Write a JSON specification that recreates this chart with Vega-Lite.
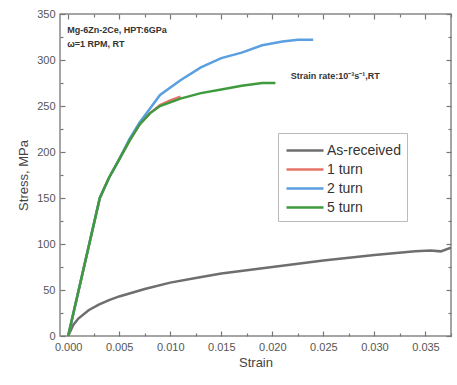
{
  "$schema": "https://vega.github.io/schema/vega-lite/v6.json",
  "width": 391,
  "height": 322,
  "autosize": {"type": "none"},
  "padding": {"left": 60, "top": 14, "right": 6, "bottom": 49},
  "background": "white",
  "config": {
    "view": {"stroke": "#888", "strokeWidth": 1.5},
    "axis": {"grid": false, "domain": false, "tickColor": "#777", "tickWidth": 1.2, "labelFont": "Liberation Sans", "labelFontSize": 11, "labelColor": "#555", "titleFont": "Liberation Sans", "titleFontSize": 13, "titleFontWeight": "normal", "titleColor": "#444"}
  },
  "datasets": {
    "curves": [
      {"series": "As-received", "strain": 0.0, "stress": 0},
      {"series": "As-received", "strain": 0.0005, "stress": 12},
      {"series": "As-received", "strain": 0.001, "stress": 19},
      {"series": "As-received", "strain": 0.002, "stress": 28},
      {"series": "As-received", "strain": 0.003, "stress": 34},
      {"series": "As-received", "strain": 0.004, "stress": 39},
      {"series": "As-received", "strain": 0.005, "stress": 43},
      {"series": "As-received", "strain": 0.0075, "stress": 51},
      {"series": "As-received", "strain": 0.010, "stress": 58},
      {"series": "As-received", "strain": 0.0125, "stress": 63},
      {"series": "As-received", "strain": 0.015, "stress": 68},
      {"series": "As-received", "strain": 0.020, "stress": 75},
      {"series": "As-received", "strain": 0.025, "stress": 82},
      {"series": "As-received", "strain": 0.030, "stress": 88},
      {"series": "As-received", "strain": 0.034, "stress": 92},
      {"series": "As-received", "strain": 0.0355, "stress": 93},
      {"series": "As-received", "strain": 0.0365, "stress": 92},
      {"series": "As-received", "strain": 0.0375, "stress": 96},
      {"series": "1 turn", "strain": 0.0, "stress": 0},
      {"series": "1 turn", "strain": 0.0031, "stress": 150},
      {"series": "1 turn", "strain": 0.004, "stress": 172},
      {"series": "1 turn", "strain": 0.005, "stress": 192},
      {"series": "1 turn", "strain": 0.006, "stress": 212},
      {"series": "1 turn", "strain": 0.007, "stress": 230},
      {"series": "1 turn", "strain": 0.008, "stress": 242},
      {"series": "1 turn", "strain": 0.009, "stress": 251},
      {"series": "1 turn", "strain": 0.010, "stress": 256},
      {"series": "1 turn", "strain": 0.011, "stress": 260},
      {"series": "2 turn", "strain": 0.0, "stress": 0},
      {"series": "2 turn", "strain": 0.0031, "stress": 150},
      {"series": "2 turn", "strain": 0.004, "stress": 172},
      {"series": "2 turn", "strain": 0.005, "stress": 192},
      {"series": "2 turn", "strain": 0.006, "stress": 214},
      {"series": "2 turn", "strain": 0.007, "stress": 232},
      {"series": "2 turn", "strain": 0.008, "stress": 247},
      {"series": "2 turn", "strain": 0.009, "stress": 262},
      {"series": "2 turn", "strain": 0.011, "stress": 278},
      {"series": "2 turn", "strain": 0.013, "stress": 292},
      {"series": "2 turn", "strain": 0.015, "stress": 302},
      {"series": "2 turn", "strain": 0.017, "stress": 308},
      {"series": "2 turn", "strain": 0.019, "stress": 316},
      {"series": "2 turn", "strain": 0.021, "stress": 320},
      {"series": "2 turn", "strain": 0.0225, "stress": 322},
      {"series": "2 turn", "strain": 0.024, "stress": 322},
      {"series": "5 turn", "strain": 0.0, "stress": 0},
      {"series": "5 turn", "strain": 0.0031, "stress": 150},
      {"series": "5 turn", "strain": 0.004, "stress": 172},
      {"series": "5 turn", "strain": 0.005, "stress": 192},
      {"series": "5 turn", "strain": 0.006, "stress": 212},
      {"series": "5 turn", "strain": 0.007, "stress": 230},
      {"series": "5 turn", "strain": 0.008, "stress": 242},
      {"series": "5 turn", "strain": 0.009, "stress": 250},
      {"series": "5 turn", "strain": 0.011, "stress": 258},
      {"series": "5 turn", "strain": 0.013, "stress": 264},
      {"series": "5 turn", "strain": 0.015, "stress": 268},
      {"series": "5 turn", "strain": 0.017, "stress": 272},
      {"series": "5 turn", "strain": 0.019, "stress": 275},
      {"series": "5 turn", "strain": 0.0203, "stress": 275}
    ],
    "notes": [
      {"strain": -0.0001, "stress": 333, "label": "Mg-6Zn-2Ce, HPT:6GPa"},
      {"strain": -0.0001, "stress": 317, "label": "ω=1 RPM, RT"},
      {"strain": 0.0218, "stress": 283, "label": "Strain rate:10⁻³s⁻¹,RT"}
    ]
  },
  "layer": [
    {
      "data": {"name": "curves"},
      "mark": {"type": "line", "strokeWidth": 2.5, "clip": true},
      "encoding": {
        "x": {"field": "strain", "type": "quantitative", "title": "Strain",
              "scale": {"domain": [-0.0008, 0.0375], "nice": false, "zero": false},
              "axis": {"orient": "bottom", "values": [0, 0.0025, 0.005, 0.0075, 0.01, 0.0125, 0.015, 0.0175, 0.02, 0.0225, 0.025, 0.0275, 0.03, 0.0325, 0.035, 0.0375], "format": ".3f",
                       "labelExpr": "abs(datum.value*200 - round(datum.value*200)) < 1e-6 ? datum.label : ''",
                       "tickSize": {"condition": {"test": "abs(datum.value*200 - round(datum.value*200)) < 1e-6", "value": -5}, "value": -3},
                       "labelPadding": 10, "titlePadding": 4}},
        "y": {"field": "stress", "type": "quantitative", "title": "Stress, MPa",
              "scale": {"domain": [0, 350], "nice": false},
              "axis": {"orient": "left", "values": [0, 25, 50, 75, 100, 125, 150, 175, 200, 225, 250, 275, 300, 325, 350],
                       "labelExpr": "datum.value % 50 == 0 ? datum.label : ''",
                       "tickSize": {"condition": {"test": "datum.value % 50 == 0", "value": -5}, "value": -3},
                       "labelPadding": 10, "titlePadding": 6}},
        "color": {"field": "series", "type": "nominal",
                  "scale": {"domain": ["As-received", "1 turn", "2 turn", "5 turn"], "range": ["#6e6e6e", "#e57368", "#5a9fe0", "#3f9a3f"]},
                  "legend": {"title": null, "orient": "none", "legendX": 218, "legendY": 119, "symbolType": "M-0.9,0H2.8", "symbolSize": 400, "symbolStrokeWidth": 2.5, "labelFont": "Liberation Sans", "labelFontSize": 14, "labelColor": "#333", "labelOffset": 20, "strokeColor": "#bbb", "padding": 6, "rowPadding": 0, "fillColor": "white"}},
        "order": {"field": "strain", "type": "quantitative"}
      }
    },
    {
      "data": {"name": "notes"},
      "mark": {"type": "text", "align": "left", "baseline": "middle", "fontWeight": "bold", "font": "Liberation Sans", "fontSize": 9, "color": "#333"},
      "encoding": {
        "x": {"field": "strain", "type": "quantitative", "scale": {"domain": [-0.0008, 0.0375], "nice": false, "zero": false},
              "axis": {"orient": "top", "values": [0, 0.0025, 0.005, 0.0075, 0.01, 0.0125, 0.015, 0.0175, 0.02, 0.0225, 0.025, 0.0275, 0.03, 0.0325, 0.035, 0.0375], "labels": false,
                       "tickSize": {"condition": {"test": "abs(datum.value*200 - round(datum.value*200)) < 1e-6", "value": -5}, "value": -3}, "title": null}},
        "y": {"field": "stress", "type": "quantitative", "scale": {"domain": [0, 350], "nice": false},
              "axis": {"orient": "right", "values": [0, 25, 50, 75, 100, 125, 150, 175, 200, 225, 250, 275, 300, 325, 350], "labels": false,
                       "tickSize": {"condition": {"test": "datum.value % 50 == 0", "value": -5}, "value": -3}, "title": null}},
        "text": {"field": "label"}
      }
    }
  ],
  "resolve": {"axis": {"x": "independent", "y": "independent"}}
}
